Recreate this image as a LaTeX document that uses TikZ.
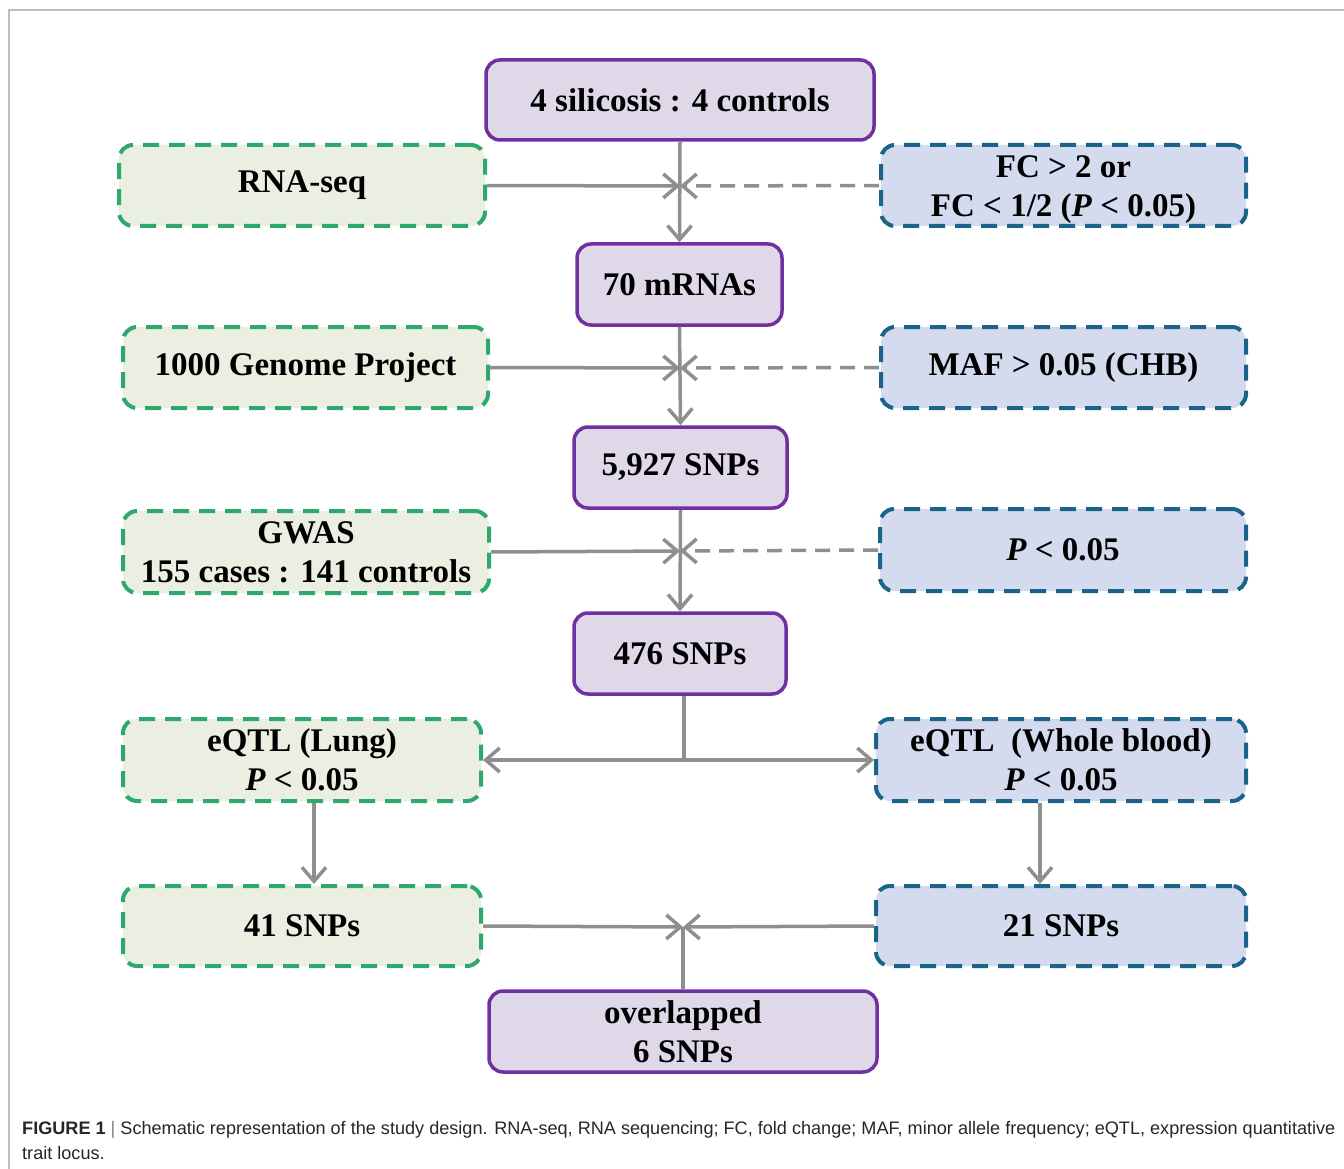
\documentclass[tikz,border=0pt]{standalone}
\usepackage{fontspec}
\setmainfont{Liberation Serif}
\newfontfamily\capfont{Liberation Sans}
\usetikzlibrary{arrows.meta}
\definecolor{pborder}{HTML}{7030A0}
\definecolor{pfill}{HTML}{DED8E9}
\definecolor{gborder}{HTML}{2EA86C}
\definecolor{gfill}{HTML}{EBEFE1}
\definecolor{bborder}{HTML}{1A6489}
\definecolor{bfill}{HTML}{D5DBEE}
\definecolor{arrgray}{HTML}{8F8F8F}
\definecolor{framegray}{HTML}{BDBDBD}
\tikzset{
  boxbase/.style={rounded corners=14pt, line width=3.5pt, inner sep=0pt, align=center,
    font=\fontsize{33}{39}\selectfont\bfseries, text=black},
  pbox/.style={boxbase, draw=pborder, fill=pfill},
  gbox/.style={boxbase, draw=gborder, fill=gfill, dash pattern=on 16pt off 10pt, line width=4pt},
  bbox/.style={boxbase, draw=bborder, fill=bfill, dash pattern=on 16pt off 10pt, line width=4pt},
  conn/.style={draw=arrgray, line width=3.5pt},
  arr/.style={conn, -{Straight Barb[length=14pt,width=24pt]}},
  darr/.style={arr, dash pattern=on 15pt off 9pt},
}
\begin{document}
\begin{tikzpicture}[x=1pt,y=-1pt]
\useasboundingbox (0,0) rectangle (1344,1169);
\draw[framegray, line width=1.5pt] (9,1169) -- (9,10) -- (1344,10);

% row 1
\node[pbox, minimum width=388pt, minimum height=80pt] (top) at (680,100) {4 silicosis : 4 controls};
\node[gbox, minimum width=366pt, minimum height=81pt] (rna) at (302,185.5) {RNA-seq};
\node[bbox, minimum width=365pt, minimum height=81pt] (fc) at (1063.5,185.5) {\rule{0pt}{30pt}FC > 2 or\\FC < 1/2 (\textit{P} < 0.05)};
\node[pbox, minimum width=205pt, minimum height=81pt] (m70) at (679.5,284.5) {70 mRNAs};

% row 2
\node[gbox, minimum width=365pt, minimum height=81pt] (kg) at (305.5,367.5) {1000 Genome Project};
\node[bbox, minimum width=365pt, minimum height=81pt] (maf) at (1063.5,367.5) {MAF > 0.05 (CHB)};
\node[pbox, minimum width=213pt, minimum height=81pt] (s5927) at (680.5,467.5) {5,927 SNPs};

% row 3
\node[gbox, minimum width=366pt, minimum height=82pt] (gwas) at (306,552) {GWAS\\155 cases : 141 controls};
\node[bbox, minimum width=366pt, minimum height=82pt] (p05) at (1063,550) {\textit{P} < 0.05};
\node[pbox, minimum width=212pt, minimum height=81pt] (s476) at (680,653.5) {476 SNPs};

% row 4
\node[gbox, minimum width=358pt, minimum height=82pt] (lung) at (302,760) {eQTL (Lung)\\\textit{P} < 0.05};
\node[bbox, minimum width=370pt, minimum height=82pt] (blood) at (1061,760) {eQTL\ \ (Whole blood)\\\textit{P} < 0.05};

% row 5
\node[gbox, minimum width=358pt, minimum height=80pt] (s41) at (302,926) {41 SNPs};
\node[bbox, minimum width=370pt, minimum height=80pt] (s21) at (1061,926) {21 SNPs};
\node[pbox, minimum width=388pt, minimum height=81pt] (ovl) at (683,1031.5) {overlapped\\6 SNPs};

% junctions
\coordinate (j1) at (680,186);
\coordinate (j2) at (680,368);
\coordinate (j3) at (680,551);
\coordinate (sp) at (684,760);
\coordinate (j4) at (683,927);

\draw[arr] (top.south) -- (m70.north);
\draw[arr] (rna.east) -- (j1);
\draw[darr] (fc.west) -- (j1);

\draw[arr] (m70.south) -- (s5927.north);
\draw[arr] (kg.east) -- (j2);
\draw[darr] (maf.west) -- (j2);

\draw[arr] (s5927.south) -- (s476.north);
\draw[arr] (gwas.east) -- (j3);
\draw[darr] (p05.west) -- (j3);

\draw[conn] (s476.south -| sp) -- (sp);
\draw[arr] (sp) -- (lung.east);
\draw[arr] (sp) -- (blood.west);

\draw[arr] ([xshift=12pt]lung.south) -- ([xshift=12pt]s41.north);
\draw[arr] ([xshift=-21pt]blood.south) -- ([xshift=-21pt]s21.north);

\draw[arr] (s41.east) -- (j4);
\draw[arr] (s21.west) -- (j4);
\draw[conn] (ovl.north) -- (j4);

% caption
\node[anchor=north west, inner sep=0pt, align=left, text=black!85,
  font=\capfont\fontsize{18.1}{25}\selectfont] (cap) at (22,1121)
  {\textbf{FIGURE 1}\ \textcolor{black!50}{|}\ Schematic representation of the study design. RNA-seq, RNA sequencing; FC, fold change; MAF, minor allele frequency; eQTL, expression quantitative\\trait locus.};
\end{tikzpicture}
\end{document}
